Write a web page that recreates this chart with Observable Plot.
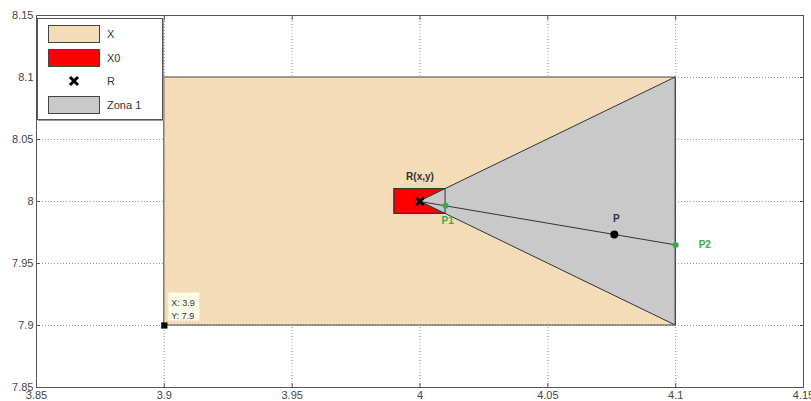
<!DOCTYPE html>
<html>
<head>
<meta charset="utf-8">
<script src="https://cdn.jsdelivr.net/npm/d3@7"></script>
<script src="https://cdn.jsdelivr.net/npm/@observablehq/plot@0.6"></script>
<style>
  html, body { margin: 0; padding: 0; background: #fff; }
  #wrap { position: relative; width: 811px; height: 401px; font-family: "Liberation Sans", Arial, sans-serif; }
  #legend {
    position: absolute; left: 37px; top: 18px; width: 124px; height: 100px;
    background: #fff; border: 1px solid #555; box-shadow: 1px 1px 0 #999;
    font-size: 11px; color: #333;
  }
  .row { position: absolute; left: 10px; height: 18px; width: 112px; }
  .sw { position: absolute; left: 0; top: 0; width: 52px; height: 18px; border: 1px solid #444; box-sizing: border-box; }
  .lab { position: absolute; left: 59px; top: 0; line-height: 18px; white-space: nowrap; }
</style>
</head>
<body>
<div id="wrap"></div>
<script>
// ---- data ----
const xTicks = [3.85, 3.9, 3.95, 4, 4.05, 4.1, 4.15];
const xTickLabels = ["3.85", "3.9", "3.95", "4", "4.05", "4.1", "4.15"];
const yTicks = [7.85, 7.9, 7.95, 8, 8.05, 8.1, 8.15];
const yTickLabels = ["7.85", "7.9", "7.95", "8", "8.05", "8.1", "8.15"];

const regionX = [{x1: 3.9, x2: 4.1, y1: 7.9, y2: 8.1}];
const regionX0 = [{x1: 3.99, x2: 4.01, y1: 7.99, y2: 8.01}];
const zona1 = [{x: 4.0, ylo: 8.0, yhi: 8.0}, {x: 4.1, ylo: 7.9, yhi: 8.1}];
const ray = [{x: 4.0, y: 8.0}, {x: 4.1, y: 7.965}];
const pointR = [{name: "R(x,y)", x: 4.0, y: 8.0}];
const pointP = [{name: "P", x: 4.076, y: 7.9734}];
const pointP1 = [{name: "P1", x: 4.01, y: 7.9965}];
const pointP2 = [{name: "P2", x: 4.1, y: 7.965}];
const dataTip = [{x: 3.9, y: 7.9, label: "X: 3.9\nY: 7.9"}];

const legendItems = [
  {label: "X", kind: "swatch", color: "#f3dcb7"},
  {label: "X0", kind: "swatch", color: "#ff0000"},
  {label: "R", kind: "marker", color: "#000"},
  {label: "Zona 1", kind: "swatch", color: "#c9c9c9"}
];

const tan = legendItems[0].color, red = legendItems[1].color, gray = legendItems[3].color;
const green = "#3aaa4e";
const axisColor = "#555";

// box shape for the data tip background (drawn relative to the tip's anchor point)
const tipBox = {draw(ctx) { ctx.rect(4, -33, 31, 28); }};

const chart = Plot.plot({
  width: 811,
  height: 401,
  marginLeft: 36,
  marginRight: 8,
  marginTop: 15,
  marginBottom: 14,
  style: {fontFamily: "Liberation Sans, Arial, sans-serif", fontSize: "11px", background: "#fff", color: "#333"},
  x: {domain: [3.85, 4.15]},
  y: {domain: [7.85, 8.15]},
  marks: [
    Plot.gridX(xTicks, {stroke: "#888", strokeOpacity: 0.9, strokeDasharray: "1,2"}),
    Plot.gridY(yTicks, {stroke: "#888", strokeOpacity: 0.9, strokeDasharray: "1,2"}),
    Plot.rect(regionX, {x1: "x1", x2: "x2", y1: "y1", y2: "y2", fill: tan, stroke: "#444", strokeWidth: 1}),
    Plot.rect(regionX0, {x1: "x1", x2: "x2", y1: "y1", y2: "y2", fill: red, stroke: "#444", strokeWidth: 1}),
    Plot.areaY(zona1, {x: "x", y1: "ylo", y2: "yhi", fill: gray, stroke: "#333", strokeWidth: 1}),
    Plot.rect(regionX0, {x1: "x1", x2: "x2", y1: "y1", y2: "y2", fill: "none", stroke: "#333", strokeWidth: 1}),
    Plot.line(ray, {x: "x", y: "y", stroke: "#333", strokeWidth: 1}),
    Plot.dot(pointR, {x: "x", y: "y", symbol: "times", stroke: "#000", strokeWidth: 2.5, r: 3.5}),
    Plot.text(pointR, {x: "x", y: "y", text: "name", dy: -25, fontWeight: "bold", fontSize: 10, fill: "#333"}),
    Plot.dot(pointP, {x: "x", y: "y", fill: "#000", r: 4}),
    Plot.text(pointP, {x: "x", y: "y", text: "name", dy: -16, dx: 2, fontWeight: "bold", fontSize: 10, fill: "#333"}),
    Plot.dot(pointP1, {x: "x", y: "y", fill: green, r: 3}),
    Plot.text(pointP1, {x: "x", y: "y", text: "name", dy: 15, dx: 2, fontWeight: "bold", fontSize: 10, fill: green}),
    Plot.dot(pointP2, {x: "x", y: "y", fill: green, r: 3}),
    Plot.text(pointP2, {x: "x", y: "y", text: "name", dx: 23, textAnchor: "start", fontWeight: "bold", fontSize: 10, fill: green}),
    Plot.dot(dataTip, {x: "x", y: "y", symbol: tipBox, fill: "#fdfde8", stroke: "none"}),
    Plot.text(dataTip, {x: "x", y: "y", text: "label", dx: 7, dy: -7, textAnchor: "start", lineAnchor: "bottom", fontSize: 9, lineHeight: 1.4, fill: "#333"}),
    Plot.dot(dataTip, {x: "x", y: "y", symbol: "square", fill: "#000", r: 3.5}),
    Plot.frame({stroke: axisColor, strokeWidth: 1}),
    Plot.axisX(xTicks, {anchor: "bottom", tickSize: -4, tickPadding: 8, stroke: axisColor, tickFormat: (d, i) => xTickLabels[i], color: "#444"}),
    Plot.axisX(xTicks, {anchor: "top", tickSize: -4, tickFormat: () => "", stroke: axisColor}),
    Plot.axisY(yTicks, {anchor: "left", tickSize: -4, tickPadding: 7, stroke: axisColor, tickFormat: (d, i) => yTickLabels[i], color: "#444"}),
    Plot.axisY(yTicks, {anchor: "right", tickSize: -4, tickFormat: () => "", stroke: axisColor})
  ]
});

const wrap = document.getElementById("wrap");
wrap.appendChild(chart);

// legend overlay
const legend = document.createElement("div");
legend.id = "legend";
const rowTops = [6, 29.5, 53, 77];
legendItems.forEach((it, i) => {
  const row = document.createElement("div");
  row.className = "row";
  row.style.top = rowTops[i] + "px";
  if (it.kind === "swatch") {
    const sw = document.createElement("div");
    sw.className = "sw";
    sw.style.background = it.color;
    row.appendChild(sw);
  } else {
    const holder = document.createElement("div");
    holder.style.position = "absolute";
    holder.style.left = "0";
    holder.style.top = "0";
    holder.innerHTML = '<svg width="52" height="18"><path d="M22,5L30,13M30,5L22,13" stroke="' + it.color + '" stroke-width="3"/></svg>';
    row.appendChild(holder);
  }
  const lab = document.createElement("span");
  lab.className = "lab";
  lab.textContent = it.label;
  row.appendChild(lab);
  legend.appendChild(row);
});
wrap.appendChild(legend);
</script>
</body>
</html>
